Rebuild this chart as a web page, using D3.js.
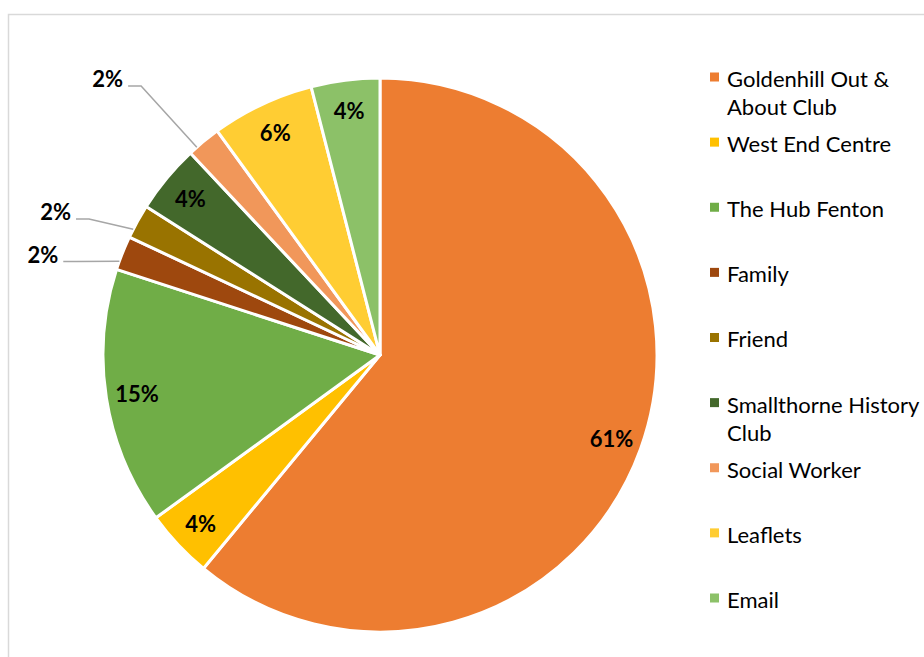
<!DOCTYPE html>
<html>
<head>
<meta charset="utf-8">
<script src="https://cdn.jsdelivr.net/npm/d3@7"></script>
<style>
  body { margin: 0; background: #fff; }
  text { font-family: Lato, "Open Sans", sans-serif; }
</style>
</head>
<body>
<div id="chart"></div>
<script>
/*global d3*/
var categories = ["Goldenhill Out & About Club", "West End Centre", "The Hub Fenton", "Family",
                  "Friend", "Smallthorne History Club", "Social Worker", "Leaflets", "Email"];
var values = [61, 4, 15, 2, 2, 4, 2, 6, 4];
var colors = ["#ED7D31", "#FFC000", "#70AD47", "#9E480E", "#997300", "#43682B", "#F1975A", "#FFCD33", "#8CC168"];

var width = 924, height = 657,
    cx = 380, cy = 355, radius = 277,
    labelRadius = 246;

// slices too small get an outside label with a leader line
var outsideFactor = {"Family": 1.27, "Friend": 1.28, "Social Worker": 1.40};

var svg = d3.select("#chart").append("svg")
    .attr("width", width)
    .attr("height", height);

svg.append("rect")
    .attr("x", 8.5).attr("y", 14.5)
    .attr("width", width).attr("height", height)
    .attr("fill", "none")
    .attr("stroke", "#d9d9d9")
    .attr("stroke-width", 1.5);

var donnees = categories.map(function(c, i) { return {name: c, value: values[i], color: colors[i]}; });
var pie = d3.pie().sort(null).value(function(d) { return d.value; });
var arcs = pie(donnees);
var arc = d3.arc().innerRadius(0).outerRadius(radius);
var arcLabel = d3.arc().innerRadius(labelRadius).outerRadius(labelRadius);

var g = svg.append("g").attr("transform", "translate(" + cx + "," + cy + ")");

g.selectAll("path.slice")
    .data(arcs)
    .join("path")
    .attr("class", "slice")
    .attr("d", arc)
    .attr("fill", function(d) { return d.data.color; })
    .attr("stroke", "#fff")
    .attr("stroke-width", 3)
    .attr("stroke-linejoin", "round");

function pct(d) { return Math.round(d.value) + "%"; }

// inside labels
g.selectAll("text.inside")
    .data(arcs.filter(function(d) { return !outsideFactor[d.data.name]; }))
    .join("text")
    .attr("class", "inside")
    .attr("transform", function(d) { return "translate(" + arcLabel.centroid(d) + ")"; })
    .attr("text-anchor", "middle")
    .attr("dy", "0.38em")
    .style("font-size", "22px")
    .style("font-weight", "bold")
    .style("fill", "#000")
    .text(function(d) { return pct(d.data); });

// outside labels + leaders
var outside = arcs.filter(function(d) { return outsideFactor[d.data.name]; });
outside.forEach(function(d) {
    var mid = (d.startAngle + d.endAngle) / 2,
        a = mid - 5 * Math.PI / 180,
        R = radius * outsideFactor[d.data.name],
        lx = R * Math.sin(a),
        ly = -R * Math.cos(a);
    var t = g.append("text")
        .attr("x", lx).attr("y", ly)
        .attr("text-anchor", "middle")
        .attr("dy", "0.38em")
        .style("font-size", "22px")
        .style("font-weight", "bold")
        .text(pct(d.data));
    var w = t.node().getComputedTextLength();
    var ea = d.startAngle + (d.endAngle - d.startAngle) * 0.25,
        ex = radius * Math.sin(ea),
        ey = -radius * Math.cos(ea),
        x0 = lx + w / 2 + 5,
        yl = ly + 7;
    g.append("path")
        .attr("d", "M" + x0 + "," + yl + "H" + (x0 + 13) + "L" + ex + "," + ey)
        .attr("fill", "none")
        .attr("stroke", "#a6a6a6")
        .attr("stroke-width", 1.5);
});

// legend
var legend = svg.append("g").attr("transform", "translate(710,0)");
var itemY = d3.scalePoint().domain(categories).range([77, 598]);
var lineH = 28, maxW = 210;

var items = legend.selectAll("g.item")
    .data(donnees)
    .join("g")
    .attr("class", "item")
    .attr("transform", function(d) { return "translate(0," + itemY(d.name) + ")"; });

items.append("rect")
    .attr("x", 0).attr("y", -4.5)
    .attr("width", 9).attr("height", 9)
    .attr("fill", function(d) { return d.color; });

items.each(function(d) {
    var t = d3.select(this).append("text")
        .attr("x", 17)
        .attr("y", 0)
        .style("font-size", "22px")
        .style("fill", "#000");
    var words = d.name.split(" "), line = [], n = 0;
    var tspan = t.append("tspan").attr("x", 17).attr("y", 0).attr("dy", "0.45em");
    words.forEach(function(w) {
        line.push(w);
        tspan.text(line.join(" "));
        if (tspan.node().getComputedTextLength() > maxW && line.length > 1) {
            line.pop();
            tspan.text(line.join(" "));
            line = [w];
            n++;
            tspan = t.append("tspan").attr("x", 17).attr("y", n * lineH).attr("dy", "0.45em").text(w);
        }
    });
});
</script>
</body>
</html>
